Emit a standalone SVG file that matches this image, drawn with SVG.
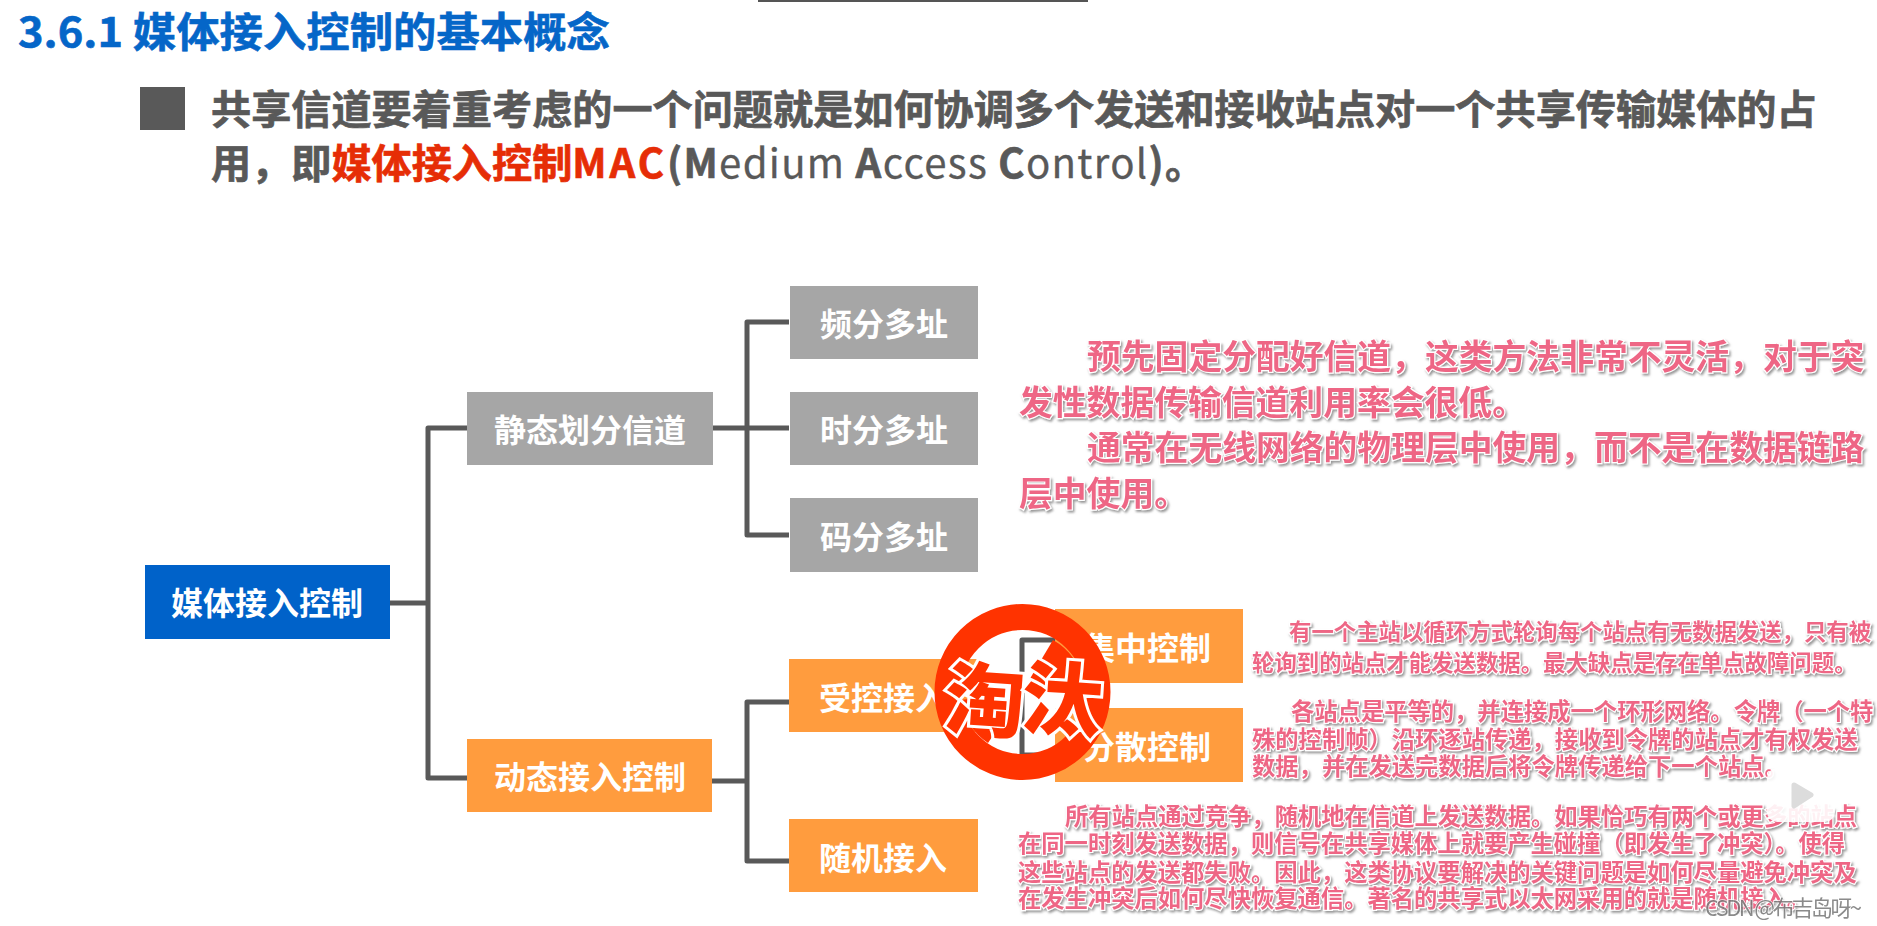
<svg xmlns="http://www.w3.org/2000/svg" width="1877" height="926" viewBox="0 0 1877 926">
<style>
text{font-family:"Noto Sans CJK SC","Noto Sans",sans-serif}
.title{font-size:41px;font-weight:700;fill:#0566c8;stroke:#0566c8;stroke-width:.6px}
.lead{font-size:40.15px;font-weight:700;fill:#595959;stroke:#595959;stroke-width:.7px}
.red{fill:#e62d06;stroke:#e62d06}
.thin{font-weight:400;stroke-width:.3px}
.box{fill:#a6a6a6}
.org{fill:#ff9c3e}
.blue{fill:#0062c9}
.lbl{font-size:32px;font-weight:700;fill:#fff;text-anchor:middle}
.con{fill:none;stroke:#595959;stroke-width:5;stroke-linejoin:round}
.pink{font-weight:700;fill:#ee6685;stroke:#fff;stroke-width:2.4px;paint-order:stroke;filter:url(#sh)}
.p1{font-size:33.8px}
.p2{font-size:22.4px}
.p3{font-size:23.3px}
.st{font-size:80px;font-weight:900;text-anchor:middle;fill:#ff3300;stroke:#fff;stroke-width:6px;paint-order:stroke}
</style>
<defs>
<filter id="sh" x="-5%" y="-20%" width="110%" height="150%"><feDropShadow dx="1.5" dy="2" stdDeviation="1" flood-color="#777" flood-opacity=".75"/></filter>
</defs>
<rect width="1877" height="926" fill="#fff"/>
<rect x="758" y="0" width="330" height="2" fill="#555"/>
<text class="title" x="18" y="47" textLength="592" lengthAdjust="spacingAndGlyphs">3.6.1 媒体接入控制的基本概念</text>
<rect x="140" y="87" width="45" height="43" fill="#595959"/>
<text class="lead" x="211" y="124">共享信道要着重考虑的一个问题就是如何协调多个发送和接收站点对一个共享传输媒体的占</text>
<text class="lead" x="211" y="178">用&#xFF0C;即<tspan class="red">媒体接入控制<tspan letter-spacing="3">MAC</tspan></tspan><tspan letter-spacing="1.3">(M<tspan class="thin">edium </tspan>A<tspan class="thin">ccess </tspan>C<tspan class="thin">ontrol</tspan>)。</tspan></text>

<g id="connectors">
<path class="con" d="M390 603H428M467 428H428V778H467"/>
<path class="con" d="M713 428H789M789 322H747V535H789"/>
<path class="con" d="M712 781H747M789 702H747V861H789"/>
<path class="con" d="M978 700H1022M1055 640H1022V755H1055"/>
</g>

<g id="n-root"><rect class="blue" x="145" y="565" width="245" height="74"/><text class="lbl" x="267" y="615">媒体接入控制</text></g>
<g id="n-static"><rect class="box" x="467" y="392" width="246" height="73"/><text class="lbl" x="590" y="442">静态划分信道</text></g>
<g id="n-dynamic"><rect class="org" x="467" y="739" width="245" height="73"/><text class="lbl" x="590" y="789">动态接入控制</text></g>
<g id="n-fdma"><rect class="box" x="790" y="286" width="188" height="73"/><text class="lbl" x="884" y="336">频分多址</text></g>
<g id="n-tdma"><rect class="box" x="790" y="392" width="188" height="73"/><text class="lbl" x="884" y="442">时分多址</text></g>
<g id="n-cdma"><rect class="box" x="790" y="498" width="188" height="74"/><text class="lbl" x="884" y="549">码分多址</text></g>
<g id="n-controlled"><rect class="org" x="789" y="659" width="189" height="73"/><text class="lbl" x="883" y="710">受控接入</text></g>
<g id="n-random"><rect class="org" x="789" y="819" width="189" height="73"/><text class="lbl" x="883" y="870">随机接入</text></g>
<g id="n-central"><rect class="org" x="1055" y="609" width="188" height="74"/><text class="lbl" x="1147" y="660">集中控制</text></g>
<g id="n-distributed"><rect class="org" x="1055" y="708" width="188" height="74"/><text class="lbl" x="1147" y="759">分散控制</text></g>

<g id="note-static">
<text class="pink p1" x="1087" y="369">预先固定分配好信道&#xFF0C;这类方法非常不灵活&#xFF0C;对于突</text>
<text class="pink p1" x="1019" y="415">发性数据传输信道利用率会很低。</text>
<text class="pink p1" x="1087" y="460">通常在无线网络的物理层中使用&#xFF0C;而不是在数据链路</text>
<text class="pink p1" x="1019" y="506">层中使用。</text>
</g>
<g id="note-central">
<text class="pink p2" x="1289" y="640">有一个主站以循环方式轮询每个站点有无数据发送&#xFF0C;只有被</text>
<text class="pink p2" x="1252" y="671">轮询到的站点才能发送数据。最大缺点是存在单点故障问题。</text>
</g>
<g id="note-distributed">
<text class="pink p3" x="1291" y="720">各站点是平等的&#xFF0C;并连接成一个环形网络。令牌&#xFF08;一个特</text>
<text class="pink p3" x="1252" y="748">殊的控制帧&#xFF09;沿环逐站传递&#xFF0C;接收到令牌的站点才有权发送</text>
<text class="pink p3" x="1252" y="775">数据&#xFF0C;并在发送完数据后将令牌传递给下一个站点。</text>
</g>
<g id="note-random">
<text class="pink p3" x="1065" y="825">所有站点通过竞争&#xFF0C;随机地在信道上发送数据。如果恰巧有两个或更多的站点</text>
<text class="pink p3" x="1018" y="852">在同一时刻发送数据&#xFF0C;则信号在共享媒体上就要产生碰撞&#xFF08;即发生了冲突&#xFF09;。使得</text>
<text class="pink p3" x="1018" y="881">这些站点的发送都失败。因此&#xFF0C;这类协议要解决的关键问题是如何尽量避免冲突及</text>
<text class="pink p3" x="1018" y="907">在发生冲突后如何尽快恢复通信。著名的共享式以太网采用的就是随机接入。</text>
</g>

<g id="stamp">
<circle cx="1022.5" cy="692" r="75" fill="none" stroke="#ff3300" stroke-width="26"/>
<path d="M1022 692L1053 640A62 62 0 0 1 1084 684Z" fill="#ff3300"/>
<path d="M1022 692L988 743A62 62 0 0 1 961 700Z" fill="#ff3300"/>
<text class="st" x="983" y="727" rotate="4">淘</text>
<text class="st" x="1060" y="726" rotate="4">汰</text>
</g>

<g id="player">
<path d="M1785 769L1783 760M1817 769L1819 760" stroke="#fff" stroke-width="7" stroke-linecap="round" opacity=".92"/>
<rect x="1767" y="768" width="68" height="54" rx="10" fill="#fff" opacity=".9"/>
<path d="M1794 785L1811 795L1794 806Z" fill="#dcdcdc" stroke="#dcdcdc" stroke-width="5" stroke-linejoin="round"/>
</g>
<text id="watermark" x="1705" y="916" font-size="22" textLength="157" fill="#777" stroke="#fff" stroke-width="1.5" paint-order="stroke" opacity=".85">CSDN @布吉岛呀~</text>
</svg>
